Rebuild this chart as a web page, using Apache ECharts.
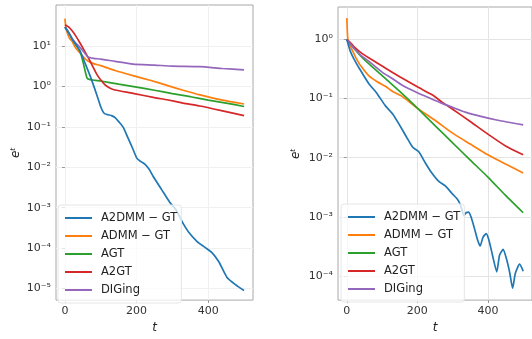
<!DOCTYPE html>
<html>
<head>
<meta charset="utf-8">
<script src="https://cdn.jsdelivr.net/npm/echarts@6/dist/echarts.min.js"></script>
<style>
  html, body { margin: 0; padding: 0; background: #fff; }
  #chart { width: 532px; height: 339px; }
</style>
</head>
<body>
<div id="chart"></div>
<script>
// Series names (shared by both panels)
const seriesNames = ['A2DMM \u2212 GT', 'ADMM \u2212 GT', 'AGT', 'A2GT', 'DIGing'];
const seriesColors = ['#1f77b4', '#ff7f0e', '#2ca02c', '#d62728', '#9467bd'];

// Tick values
const xTicks = [0, 200, 400];
const leftYTicks = [1e-5, 1e-4, 1e-3, 1e-2, 1e-1, 1e0, 1e1];
const rightYTicks = [1e-4, 1e-3, 1e-2, 1e-1, 1e0];

// ---- Left panel: error e^t versus iteration t ----
const leftA2dmmT = [0, 10, 20, 30, 42, 55, 70, 89, 98, 106, 112, 120, 130, 140, 150, 162, 175, 190, 201, 212, 223, 235, 246, 270, 293, 310, 327, 345, 369, 390, 411, 430, 452, 475, 500];
const leftA2dmmV = [30, 22, 15, 11, 7.6, 4.0, 1.86, 0.62, 0.35, 0.24, 0.21, 0.20, 0.19, 0.17, 0.135, 0.1, 0.056, 0.028, 0.0166, 0.0138, 0.012, 0.0089, 0.006, 0.0028, 0.00135, 0.00089, 0.00045, 0.00025, 0.000145, 0.000105, 7.6e-5, 4.5e-5, 1.9e-5, 1.26e-5, 8.9e-6];

const leftAdmmT = [0, 2, 6, 12, 19, 30, 42, 55, 64, 80, 100, 140, 190, 240, 285, 330, 377, 440, 500];
const leftAdmmV = [48, 32, 22, 16, 13.5, 9.0, 6.8, 5.0, 4.3, 3.7, 3.3, 2.5, 1.86, 1.41, 1.07, 0.81, 0.62, 0.46, 0.37];

const leftAgtT = [0, 10, 20, 30, 42, 50, 57, 62, 70, 85, 100, 150, 200, 250, 300, 350, 400, 450, 500];
const leftAgtV = [30, 22, 15, 11, 7.5, 4.2, 2.3, 1.6, 1.48, 1.42, 1.37, 1.15, 0.97, 0.81, 0.67, 0.56, 0.46, 0.39, 0.32];

const leftA2gtT = [0, 10, 20, 30, 42, 55, 65, 75, 89, 100, 112, 125, 140, 190, 250, 285, 330, 377, 440, 500];
const leftA2gtV = [34, 30, 24, 18, 12, 7.5, 5.2, 3.5, 2.0, 1.45, 1.1, 0.92, 0.82, 0.68, 0.53, 0.47, 0.39, 0.33, 0.25, 0.19];

const leftDigingT = [0, 10, 19, 30, 42, 55, 64, 80, 100, 140, 190, 250, 300, 377, 440, 500];
const leftDigingV = [30, 22, 16, 12, 9.3, 6.8, 5.4, 5.0, 4.8, 4.2, 3.6, 3.4, 3.2, 3.1, 2.8, 2.6];

// ---- Right panel ----
const rightA2dmmT = [0, 5, 10, 20, 36, 62, 84, 109, 131, 148, 170, 187, 204, 224, 240, 260, 280, 299, 313, 322, 332, 338, 345, 352, 362, 371, 378, 386, 395, 402, 413, 425, 433, 443, 452, 462, 470, 478, 490, 500];
const rightA2dmmV = [1.0, 0.79, 0.63, 0.47, 0.32, 0.18, 0.126, 0.076, 0.054, 0.037, 0.022, 0.015, 0.0126, 0.0079, 0.0056, 0.004, 0.0033, 0.00245, 0.002, 0.0016, 0.00105, 0.00117, 0.0012, 0.001, 0.00063, 0.0004, 0.00032, 0.00045, 0.00052, 0.00042, 0.000224, 0.000117, 0.000224, 0.00028, 0.0002, 0.000112, 6.2e-5, 0.000112, 0.000158, 0.00012];

const rightAdmmT = [0, 3, 10, 17, 25, 40, 62, 85, 109, 130, 156, 200, 250, 300, 350, 400, 450, 500];
const rightAdmmV = [2.3, 1.0, 0.76, 0.63, 0.5, 0.355, 0.245, 0.195, 0.162, 0.132, 0.11, 0.069, 0.043, 0.026, 0.017, 0.0112, 0.0078, 0.0055];

const rightAgtT = [0, 10, 25, 40, 62, 100, 150, 200, 250, 300, 350, 400, 450, 500];
const rightAgtV = [1.0, 0.83, 0.66, 0.52, 0.39, 0.245, 0.132, 0.069, 0.035, 0.0178, 0.0091, 0.0047, 0.0023, 0.00117];

const rightA2gtT = [0, 10, 20, 40, 62, 100, 150, 200, 243, 270, 300, 350, 400, 450, 500];
const rightA2gtV = [1.0, 0.89, 0.76, 0.6, 0.49, 0.355, 0.234, 0.158, 0.115, 0.087, 0.066, 0.041, 0.025, 0.0158, 0.0112];

const rightDigingT = [0, 10, 20, 40, 62, 100, 131, 156, 200, 235, 270, 300, 336, 380, 428, 500];
const rightDigingV = [1.0, 0.84, 0.71, 0.54, 0.43, 0.28, 0.214, 0.17, 0.126, 0.102, 0.083, 0.071, 0.059, 0.05, 0.043, 0.036];

const leftData = [
  [leftA2dmmT, leftA2dmmV], [leftAdmmT, leftAdmmV], [leftAgtT, leftAgtV],
  [leftA2gtT, leftA2gtV], [leftDigingT, leftDigingV]
];
const rightData = [
  [rightA2dmmT, rightA2dmmV], [rightAdmmT, rightAdmmV], [rightAgtT, rightAgtV],
  [rightA2gtT, rightA2gtV], [rightDigingT, rightDigingV]
];

const FONT = 'DejaVu Sans';
const SUP = { '0': '\u2070', '1': '\u00b9', '2': '\u00b2', '3': '\u00b3', '4': '\u2074', '5': '\u2075', '6': '\u2076', '7': '\u2077', '8': '\u2078', '9': '\u2079', '-': '\u207b' };
function powerLabel(v) {
  const e = Math.round(Math.log10(v));
  return '10' + String(e).split('').map(c => SUP[c]).join('');
}

function zip(ts, vs) { return ts.map((t, i) => [t, vs[i]]); }

function xAxis(gridIndex, gridColor) {
  return {
    gridIndex, type: 'value', min: -25, max: 525,
    name: 't', nameLocation: 'middle', nameGap: 16,
    nameTextStyle: { fontFamily: FONT, fontSize: 12, fontStyle: 'italic', color: '#222' },
    axisLine: { show: false },
    axisTick: { show: true, customValues: xTicks, length: 3, lineStyle: { color: '#999' } },
    axisLabel: { customValues: xTicks, fontFamily: FONT, fontSize: 11, color: '#333', margin: 6 },
    splitLine: { show: true, lineStyle: { color: gridColor, width: 1 } }
  };
}
function yAxis(gridIndex, lo, hi, ticks, gap, gridColor) {
  return {
    gridIndex, type: 'log', logBase: 10, min: lo, max: hi,
    name: 'e\u1d57', nameLocation: 'middle', nameGap: gap, nameRotate: 90,
    nameTextStyle: { fontFamily: FONT, fontSize: 12, fontStyle: 'italic', color: '#222' },
    axisLine: { show: false },
    axisTick: { show: true, customValues: ticks, length: 3, lineStyle: { color: '#999' } },
    axisLabel: { customValues: ticks, formatter: powerLabel, fontFamily: FONT, fontSize: 11, color: '#333', margin: 5 },
    splitLine: { show: true, lineStyle: { color: gridColor, width: 1 } },
    minorTick: { show: false }
  };
}

function makeSeries(data, idx) {
  return data.map((d, i) => ({
    name: seriesNames[i], type: 'line', xAxisIndex: idx, yAxisIndex: idx,
    data: zip(d[0], d[1]), showSymbol: false, smooth: 0.2,
    lineStyle: { width: 1.7, color: seriesColors[i] }, itemStyle: { color: seriesColors[i] },
    z: i === 0 ? 3 : 2
  }));
}

function legend(left, top) {
  return {
    data: seriesNames, orient: 'vertical', left, top,
    icon: 'rect', itemWidth: 27, itemHeight: 2, itemGap: 4,
    padding: [6, 4, 6, 7],
    backgroundColor: 'rgba(255,255,255,0.75)', borderColor: '#e6e6e6', borderWidth: 1, borderRadius: 3,
    textStyle: { fontFamily: FONT, fontSize: 11.5, color: '#222', lineHeight: 14, padding: [0, 0, 0, 4] }
  };
}

const chart = echarts.init(document.getElementById('chart'), null, { renderer: 'canvas' });
chart.setOption({
  animation: false,
  backgroundColor: '#fff',
  color: seriesColors,
  grid: [
    { left: 56, top: 5, width: 197, height: 302, show: true, borderColor: '#a8a8a8', borderWidth: 1, backgroundColor: '#fff' },
    { left: 338, top: 7, width: 197, height: 300, show: true, borderColor: '#a8a8a8', borderWidth: 1, backgroundColor: '#fff' }
  ],
  xAxis: [xAxis(0, '#f0f0f0'), xAxis(1, '#e4e4e4')],
  yAxis: [
    yAxis(0, Math.pow(10, -5.29), Math.pow(10, 2.02), leftYTicks, 34, '#f0f0f0'),
    yAxis(1, Math.pow(10, -4.41), Math.pow(10, 0.55), rightYTicks, 36, '#e4e4e4')
  ],
  legend: [legend(58, 205), legend(341, 204)],
  series: makeSeries(leftData, 0).concat(makeSeries(rightData, 1))
});
</script>
</body>
</html>
